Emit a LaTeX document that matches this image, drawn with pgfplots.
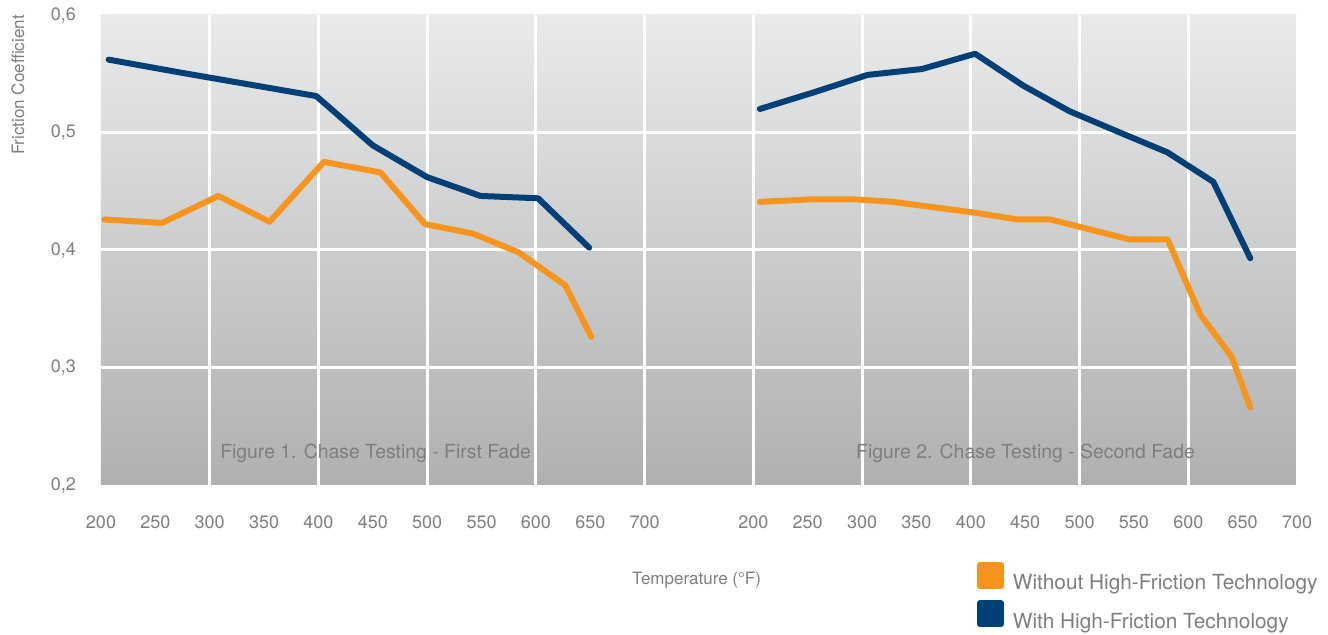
\documentclass[border=0pt]{standalone}
\usepackage{fontspec}
\setmainfont{TeX Gyre Heros}
\usepackage{pgfplots}
\usepackage{pgfplotstable}
\pgfplotsset{compat=1.18}
\definecolor{cOrange}{HTML}{F7941D}
\definecolor{cBlue}{HTML}{004077}
\definecolor{txt}{HTML}{7E7E7E}
\definecolor{bgtop}{HTML}{E9EAEA}
\definecolor{bgbot}{HTML}{AEB0B1}

% First fade (left panel)
\pgfplotstableread{
T mu
203 0.426
256 0.423
308 0.446
355 0.424
405 0.475
457 0.466
498 0.422
542 0.414
584 0.398
627 0.370
651 0.326
}\withoutA
\pgfplotstableread{
T mu
207 0.562
273 0.551
398 0.531
450 0.489
500 0.462
549 0.446
602 0.444
649 0.402
}\withA
% Second fade (right panel)
\pgfplotstableread{
T mu
206 0.441
252 0.443
295 0.443
328 0.441
402 0.432
443 0.426
473 0.426
546 0.409
581 0.409
611 0.345
640 0.309
657 0.266
}\withoutB
\pgfplotstableread{
T mu
206 0.520
255 0.534
305 0.549
355 0.554
404 0.567
448 0.540
491 0.518
537 0.500
581 0.483
623 0.458
657 0.393
}\withB

\begin{document}
\begin{tikzpicture}
\useasboundingbox (0,0) rectangle (664pt,317.5pt);
\begin{axis}[
  at={(50.5pt,75pt)}, anchor=south west,
  width=598pt, height=235pt, scale only axis,
  xmin=200, xmax=1300, ymin=0.2, ymax=0.6,
  axis line style={draw=none},
  major tick length=0pt, minor tick length=0pt,
  xtick={200,250,300,350,400,450,500,550,600,650,700,800,850,900,950,1000,1050,1100,1150,1200,1250,1300},
  xticklabels={200,250,300,350,400,450,500,550,600,650,700,200,250,300,350,400,450,500,550,600,650,700},
  minor xtick={300,400,500,600,700,800,900,1000,1100,1200,1300},
  ytick={0.2,0.3,0.4,0.5,0.6},
  minor ytick={0.3,0.4,0.5},
  xminorgrids=true, yminorgrids=true,
  minor grid style={white, line width=1.5pt},
  axis background/.style={top color=bgtop, bottom color=bgbot},
  /pgf/number format/assume math mode=true,
  /pgf/number format/use comma,
  /pgf/number format/fixed,
  /pgf/number format/precision=1,
  /pgf/number format/fixed zerofill,
  yticklabel style={font=\fontsize{9}{10}\selectfont, text=txt, anchor=east, xshift=-9pt},
  xticklabel style={font=\fontsize{9}{10}\selectfont, text=txt, anchor=north, yshift=-12pt},
  ylabel={Friction Coefficient},
  ylabel style={at={(axis description cs:-0.0694,0.851)}, anchor=center, font=\fontsize{8.5}{10}\selectfont, text=txt},
  xlabel={Temperature (°F)},
  xlabel style={at={(axis description cs:0.498,-0.202)}, anchor=center, font=\fontsize{8.5}{10}\selectfont, text=txt},
  legend image code/.code={\fill[#1] (0pt,2pt) rectangle (10.5pt,12.5pt);},
  legend cell align=left,
  legend style={at={(axis description cs:0.7324,-0.1638)}, anchor=north west,
    draw=none, fill=none, inner sep=0pt, outer sep=0pt,
    font=\fontsize{10.4}{12}\selectfont, text=txt,
    nodes={inner sep=0pt, anchor=base west},
    row sep=3.6pt,
    /tikz/every odd column/.style={column sep=4.5pt}},
  every axis plot/.append style={line width=3pt, line join=round, line cap=round},
]
\addplot[color=cOrange] table[x=T, y=mu] {\withoutA};
\addlegendentry{Without High-Friction Technology}
\addplot[color=cBlue] table[x=T, y=mu] {\withA};
\addlegendentry{With High-Friction Technology}
\addplot[color=cOrange, forget plot] table[x expr=\thisrow{T}+600, y=mu] {\withoutB};
\addplot[color=cBlue, forget plot] table[x expr=\thisrow{T}+600, y=mu] {\withB};
\node[font=\fontsize{9.7}{11}\selectfont, text=txt] at (axis cs:452.5,0.2272) {Figure 1. Chase Testing - First Fade};
\node[font=\fontsize{9.7}{11}\selectfont, text=txt] at (axis cs:1050.3,0.2272) {Figure 2. Chase Testing - Second Fade};
\end{axis}
\end{tikzpicture}
\end{document}
